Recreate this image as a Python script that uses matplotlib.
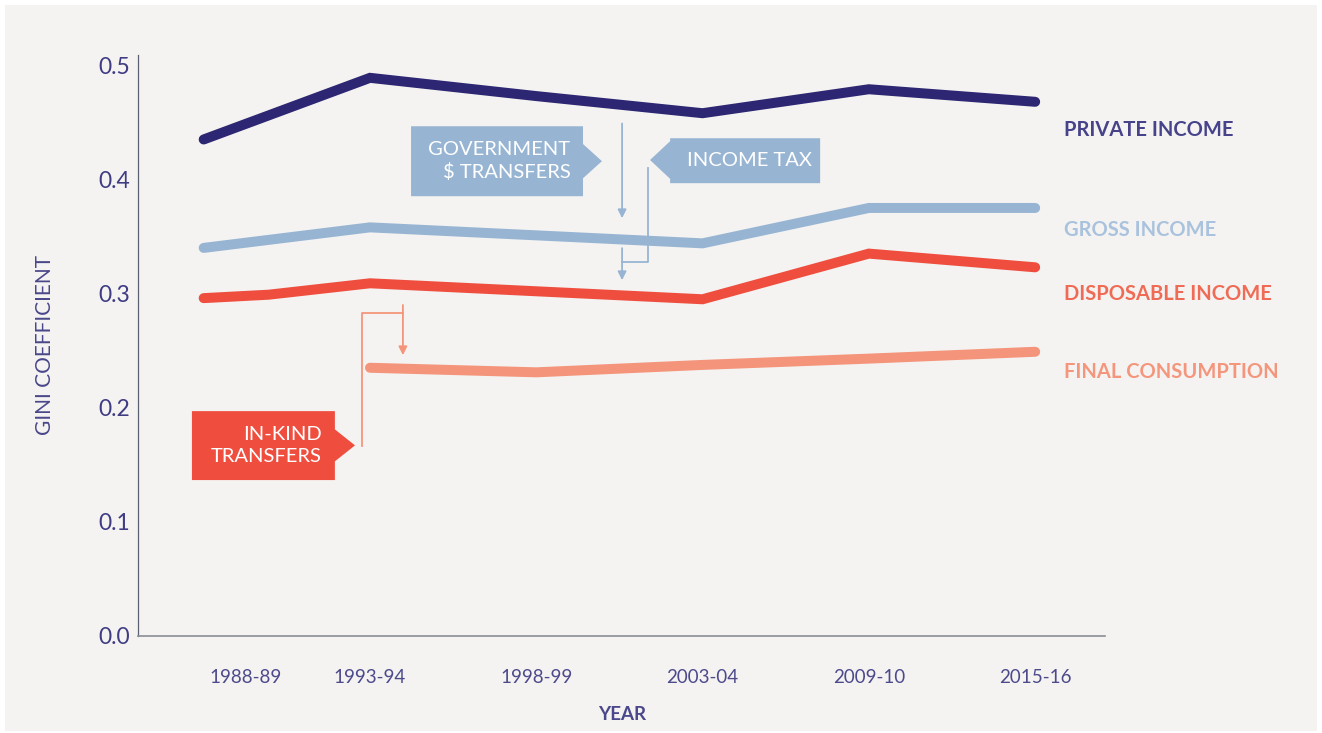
import matplotlib
matplotlib.use("Agg")
import matplotlib.pyplot as plt
from matplotlib.patches import Polygon, Rectangle

plt.rcParams['font.family'] = ['Lato', 'DejaVu Sans']

# ---- data ----
period_labels = ["1988-89", "1993-94", "1998-99", "2003-04", "2009-10", "2015-16"]
period_ticks = [0.25, 1, 2, 3, 4, 5]

x_private = [0, 1, 2, 3, 4, 5]
private_income = [0.435, 0.489, 0.473, 0.458, 0.479, 0.468]

x_gross = [0, 1, 2, 3, 4, 5]
gross_income = [0.340, 0.358, 0.351, 0.344, 0.375, 0.375]

x_disp = [0, 0.39, 1, 2, 3, 4, 5]
disposable_income = [0.296, 0.299, 0.309, 0.302, 0.295, 0.335, 0.323]

x_final = [1, 2, 3, 4, 5]
final_consumption = [0.235, 0.231, 0.2375, 0.243, 0.249]

series_names = ["PRIVATE INCOME", "GROSS INCOME", "DISPOSABLE INCOME", "FINAL CONSUMPTION"]

# ---- style ----
C_PRIV = "#2d2673"
C_GROSS = "#97b5d3"
C_DISP = "#ef4e3f"
C_FINAL = "#f4957b"
LBL_PRIV = "#47438a"
LBL_GROSS = "#a9c2dd"
LBL_DISP = "#f06b55"
LBL_FINAL = "#f4967c"
TXT = "#3f3c84"
BG = "#f4f3f1"

fig = plt.figure(figsize=(13.22, 7.33), dpi=100, facecolor="white")
bg = Rectangle((5/1322, 2/733), 1312/1322, 726/733, transform=fig.transFigure,
               facecolor=BG, edgecolor="none", zorder=-10)
fig.patches.append(bg)
ax = fig.add_axes([138/1322, 1-636/733, (1105-138)/1322, (636-55)/733])
ax.set_zorder(1)
ax.patch.set_visible(False)

lw = 7.2
for xs, ys, c in [(x_private, private_income, C_PRIV),
                  (x_gross, gross_income, C_GROSS),
                  (x_disp, disposable_income, C_DISP),
                  (x_final, final_consumption, C_FINAL)]:
    ax.plot(xs, ys, color=c, lw=lw, solid_capstyle="round", solid_joinstyle="miter", zorder=3)

ax.set_xlim(-0.395, 5.42)
ax.set_ylim(0, 0.509)
ax.set_yticks([0.0, 0.1, 0.2, 0.3, 0.4, 0.5])
ax.set_yticklabels(["0.0", "0.1", "0.2", "0.3", "0.4", "0.5"])
ax.set_xticks(period_ticks)
ax.set_xticklabels(period_labels)
ax.tick_params(axis="y", length=0, pad=6, labelsize=16.5, labelcolor=TXT)
ax.tick_params(axis="x", length=0, pad=24, labelsize=13.5, labelcolor="#4d4a8c")
for s in ["top", "right"]:
    ax.spines[s].set_visible(False)
ax.spines["left"].set_color("#5a6170")
ax.spines["left"].set_linewidth(0.9)
ax.spines["bottom"].set_color("#8a8d94")
ax.spines["bottom"].set_linewidth(1.2)

# series labels
lbl_x = 5.175
for name, yv, col in zip(series_names, [0.443, 0.3555, 0.300, 0.231],
                         [LBL_PRIV, LBL_GROSS, LBL_DISP, LBL_FINAL]):
    ax.text(lbl_x, yv, name, color=col, fontsize=14.5, fontweight="bold",
            ha="left", va="center", clip_on=False)

fig.text(622/1322, 1-715/733, "YEAR", color="#4a478a", fontsize=13.5, fontweight="bold",
         ha="center", va="center")
fig.text(45/1322, 1-345/733, "GINI COEFFICIENT", color="#4a478a", fontsize=15,
         rotation=90, ha="center", va="center")

# ---- annotation callouts ----
def callout(x0, x1, y0, y1, tip_x, tip_y, half_h, side, color):
    if side == "right":
        pts = [(x0, y0), (x1, y0), (x1, tip_y - half_h), (tip_x, tip_y),
               (x1, tip_y + half_h), (x1, y1), (x0, y1)]
    else:
        pts = [(x0, y0), (x1, y0), (x1, y1), (x0, y1), (x0, tip_y + half_h),
               (tip_x, tip_y), (x0, tip_y - half_h)]
    ax.add_patch(Polygon(pts, closed=True, facecolor=color, edgecolor="none", zorder=4,
                         clip_on=False))

# Government $ transfers
callout(1.247, 2.281, 0.3853, 0.4466, 2.395, 0.416, 0.0150, "right", C_GROSS)
ax.text(2.205, 0.416, "GOVERNMENT\n$ TRANSFERS", color="white", fontsize=14.5,
        ha="right", va="center", linespacing=1.35, zorder=5)
# Income tax
callout(2.805, 3.707, 0.3967, 0.4361, 2.684, 0.417, 0.0165, "left", C_GROSS)
ax.text(3.655, 0.4165, "INCOME TAX", color="white", fontsize=14.5,
        ha="right", va="center", zorder=5)
# In-kind transfers
callout(-0.0707, 0.789, 0.1366, 0.197, 0.910, 0.167, 0.0140, "right", C_DISP)
ax.text(0.71, 0.167, "IN-KIND\nTRANSFERS", color="white", fontsize=14.5,
        ha="right", va="center", linespacing=1.35, zorder=5)

# connector lines & arrows
thin = 1.3
ax.annotate("", xy=(2.516, 0.366), xytext=(2.516, 0.449),
            arrowprops=dict(arrowstyle="-|>,head_length=0.5,head_width=0.25", color=C_GROSS,
                            lw=thin, shrinkA=0, shrinkB=0), zorder=2)
ax.plot([2.672, 2.672, 2.516], [0.410, 0.3275, 0.3275], color=C_GROSS, lw=thin, zorder=2)
ax.annotate("", xy=(2.516, 0.3117), xytext=(2.516, 0.3398),
            arrowprops=dict(arrowstyle="-|>,head_length=0.5,head_width=0.25", color=C_GROSS,
                            lw=thin, shrinkA=0, shrinkB=0), zorder=2)

ax.plot([0.952, 0.952, 1.198], [0.1664, 0.2828, 0.2828], color=C_FINAL, lw=thin, zorder=2)
ax.annotate("", xy=(1.198, 0.246), xytext=(1.198, 0.290),
            arrowprops=dict(arrowstyle="-|>,head_length=0.5,head_width=0.25", color=C_FINAL,
                            lw=thin, shrinkA=0, shrinkB=0), zorder=2)

fig.savefig("out.png", dpi=100, facecolor="white")
